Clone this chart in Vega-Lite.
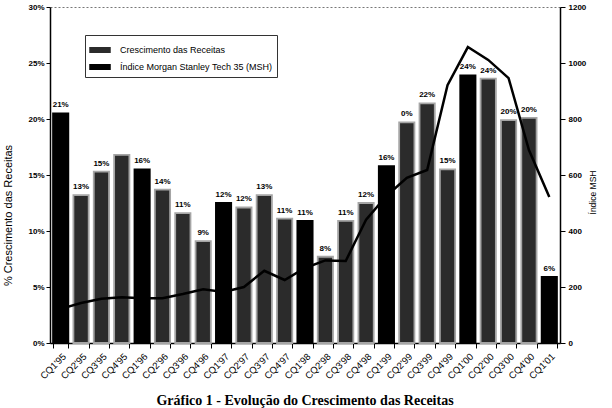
{
  "$schema": "https://vega.github.io/schema/vega-lite/v6.json",
  "width": 510,
  "height": 336,
  "autosize": {"type": "none"},
  "padding": {"left": 50, "top": 7, "right": 52, "bottom": 65},
  "background": "white",
  "config": {
    "font": "Liberation Sans",
    "view": {"stroke": "#777", "strokeDash": [2, 2], "strokeWidth": 1},
    "axis": {"domainColor": "black", "tickColor": "black", "labelColor": "black", "titleColor": "black", "grid": false}
  },
  "title": {
    "text": "Gráfico 1 - Evolução do Crescimento das Receitas",
    "orient": "bottom",
    "anchor": "middle",
    "font": "Liberation Serif",
    "fontSize": 14,
    "fontWeight": "bold",
    "color": "black",
    "offset": 14
  },
  "data": {
    "values": [
      {"q": "CQ1'95", "r": 20.5, "msh": 122, "lab": "21%"},
      {"q": "CQ2'95", "r": 13.2, "msh": 143, "lab": "13%"},
      {"q": "CQ3'95", "r": 15.3, "msh": 158, "lab": "15%"},
      {"q": "CQ4'95", "r": 16.8, "msh": 163, "lab": ""},
      {"q": "CQ1'96", "r": 15.5, "msh": 160, "lab": "16%"},
      {"q": "CQ2'96", "r": 13.7, "msh": 160, "lab": "14%"},
      {"q": "CQ3'96", "r": 11.6, "msh": 175, "lab": "11%"},
      {"q": "CQ4'96", "r": 9.1, "msh": 192, "lab": "9%"},
      {"q": "CQ1'97", "r": 12.5, "msh": 182, "lab": "12%"},
      {"q": "CQ2'97", "r": 12.1, "msh": 200, "lab": "12%"},
      {"q": "CQ3'97", "r": 13.2, "msh": 258, "lab": "13%"},
      {"q": "CQ4'97", "r": 11.1, "msh": 225, "lab": "11%"},
      {"q": "CQ1'98", "r": 10.9, "msh": 268, "lab": "11%"},
      {"q": "CQ2'98", "r": 7.7, "msh": 295, "lab": "8%"},
      {"q": "CQ3'98", "r": 10.9, "msh": 293, "lab": "11%"},
      {"q": "CQ4'98", "r": 12.5, "msh": 440, "lab": "12%"},
      {"q": "CQ1'99", "r": 15.8, "msh": 525, "lab": "16%"},
      {"q": "CQ2'99", "r": 19.7, "msh": 590, "lab": "0%"},
      {"q": "CQ3'99", "r": 21.4, "msh": 618, "lab": "22%"},
      {"q": "CQ4'99", "r": 15.5, "msh": 921, "lab": "15%"},
      {"q": "CQ1'00", "r": 23.9, "msh": 1057, "lab": "24%"},
      {"q": "CQ2'00", "r": 23.6, "msh": 1011, "lab": "24%"},
      {"q": "CQ3'00", "r": 19.9, "msh": 946, "lab": "20%"},
      {"q": "CQ4'00", "r": 20.1, "msh": 689, "lab": "20%"},
      {"q": "CQ1'01", "r": 5.9, "msh": 521, "lab": "6%"}
    ]
  },
  "encoding": {
    "x": {
      "field": "q", "type": "nominal", "sort": null,
      "scale": {"paddingInner": 0.25, "paddingOuter": 0.15},
      "axis": {"title": null, "labelAngle": -45, "labelFontSize": 9.5, "tickBand": "extent", "tickSize": 5, "domainWidth": 1.5, "labelPadding": 3}
    }
  },
  "layer": [
    {
      "encoding": {
        "y": {
          "field": "r", "type": "quantitative",
          "scale": {"domain": [0, 30], "nice": false},
          "axis": {
            "title": "% Crescimento das Receitas", "titleFontSize": 11, "titleFontWeight": "normal",
            "titlePadding": 14, "titleY": 208,
            "values": [0, 5, 10, 15, 20, 25, 30], "labelExpr": "datum.value + '%'",
            "labelFontSize": 8, "labelFontWeight": "bold", "tickSize": 4, "labelPadding": 2, "domainWidth": 1.5
          }
        }
      },
      "layer": [
        {
          "mark": {"type": "bar", "strokeWidth": 1.8},
          "encoding": {
            "color": {
              "datum": "Crescimento das Receitas",
              "scale": {"domain": ["Crescimento das Receitas", "Índice Morgan Stanley Tech 35 (MSH)"], "range": ["#2b2b2b", "black"]},
              "condition": {"test": "indexof(datum.q, 'CQ1') === 0", "value": "black"},
              "legend": {
                "orient": "none", "legendX": 35, "legendY": 28, "title": null,
                "strokeColor": "#333", "fillColor": "white", "padding": 4,
                "labelFont": "Liberation Sans", "labelFontSize": 9, "labelColor": "black",
                "symbolType": "M-1,-0.22H1V0.22H-1Z",
                "symbolSize": 400, "symbolStrokeWidth": 1.5, "rowPadding": 0, "labelOffset": 9,
                "encode": {
                  "symbols": {
                    "shape": {"value": {"expr": "datum.value === 'Crescimento das Receitas' ? 'M-1,-0.32H1V0.32H-1Z' : 'stroke'"}},
                    "strokeWidth": {"value": {"expr": "datum.value === 'Crescimento das Receitas' ? 1.5 : 3"}}
                  }
                }
              }
            },
            "stroke": {"condition": {"test": "indexof(datum.q, 'CQ1') === 0", "value": "black"}, "value": "#a5a5a5"}
          }
        },
        {
          "mark": {"type": "text", "dy": -6, "fontSize": 8, "fontWeight": "bold", "color": "black", "baseline": "alphabetic"},
          "encoding": {"text": {"field": "lab"}}
        }
      ]
    },
    {
      "mark": {"type": "line", "strokeWidth": 2.5, "interpolate": "linear"},
      "encoding": {
        "y": {
          "field": "msh", "type": "quantitative",
          "scale": {"domain": [0, 1200], "nice": false},
          "axis": {
            "orient": "right", "title": "Índice MSH", "titleFontSize": 8.5, "titleFontWeight": "normal",
            "titleAngle": 270, "titlePadding": 12, "titleY": 185, "format": "d",
            "values": [0, 200, 400, 600, 800, 1000, 1200],
            "labelFontSize": 8, "labelFontWeight": "bold", "tickSize": 5, "labelPadding": 3, "domainWidth": 1.5
          }
        },
        "color": {"datum": "Índice Morgan Stanley Tech 35 (MSH)"}
      }
    }
  ],
  "resolve": {"scale": {"y": "independent"}}
}
